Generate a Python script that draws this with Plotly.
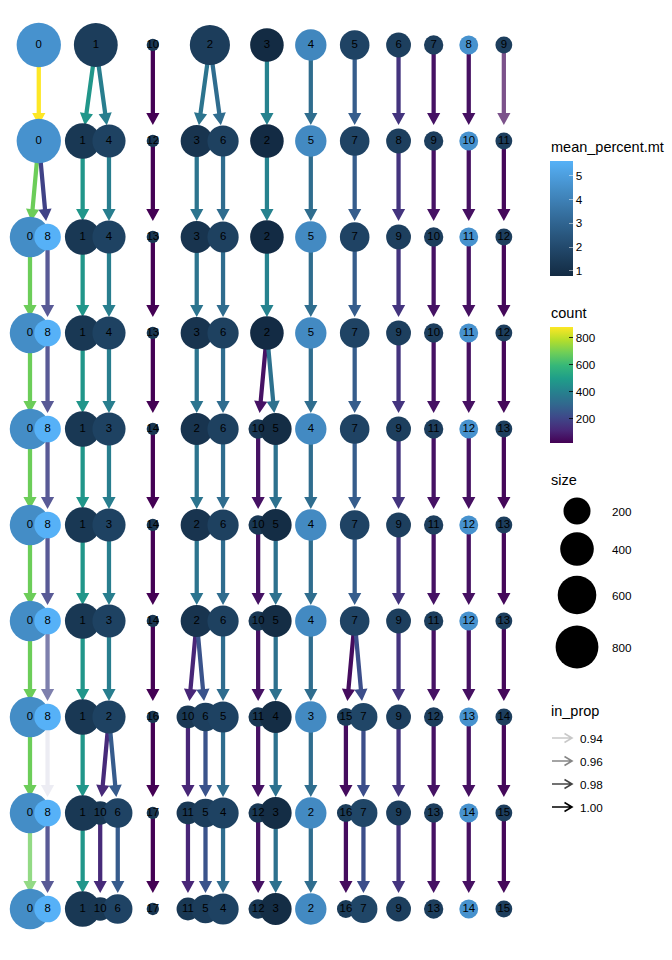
import math
import plotly.graph_objects as go
from plotly.colors import sample_colorscale

# ---------------- data (clustree: one list per resolution row, top -> bottom) ----------------
cluster_ids = [
    [0, 1, 10, 2, 3, 4, 5, 6, 7, 8, 9],
    [0, 1, 4, 12, 3, 6, 2, 5, 7, 8, 9, 10, 11],
    [0, 8, 1, 4, 13, 3, 6, 2, 5, 7, 9, 10, 11, 12],
    [0, 8, 1, 4, 13, 3, 6, 2, 5, 7, 9, 10, 11, 12],
    [0, 8, 1, 3, 14, 2, 6, 10, 5, 4, 7, 9, 11, 12, 13],
    [0, 8, 1, 3, 14, 2, 6, 10, 5, 4, 7, 9, 11, 12, 13],
    [0, 8, 1, 3, 14, 2, 6, 10, 5, 4, 7, 9, 11, 12, 13],
    [0, 8, 1, 2, 16, 10, 6, 5, 11, 4, 3, 15, 7, 9, 12, 13, 14],
    [0, 8, 1, 10, 6, 17, 11, 5, 4, 12, 3, 2, 16, 7, 9, 13, 14, 15],
    [0, 8, 1, 10, 6, 17, 11, 5, 4, 12, 3, 2, 16, 7, 9, 13, 14, 15],
]
# tree-layout x coordinate of every node
layout_x = [
    [0.5, 3.75, 7, 10.25, 13.5, 16, 18.5, 21, 23, 25, 27],
    [0.5, 3, 4.5, 7, 9.5, 11, 13.5, 16, 18.5, 21, 23, 25, 27],
    [0, 1, 3, 4.5, 7, 9.5, 11, 13.5, 16, 18.5, 21, 23, 25, 27],
    [0, 1, 3, 4.5, 7, 9.5, 11, 13.5, 16, 18.5, 21, 23, 25, 27],
    [0, 1, 3, 4.5, 7, 9.5, 11, 13, 14, 16, 18.5, 21, 23, 25, 27],
    [0, 1, 3, 4.5, 7, 9.5, 11, 13, 14, 16, 18.5, 21, 23, 25, 27],
    [0, 1, 3, 4.5, 7, 9.5, 11, 13, 14, 16, 18.5, 21, 23, 25, 27],
    [0, 1, 3, 4.5, 7, 9, 10, 11, 13, 14, 16, 18, 19, 21, 23, 25, 27],
    [0, 1, 3, 4, 5, 7, 9, 10, 11, 13, 14, 16, 18, 19, 21, 23, 25, 27],
    [0, 1, 3, 4, 5, 7, 9, 10, 11, 13, 14, 16, 18, 19, 21, 23, 25, 27],
]
cell_count = [
    [880, 855, 18, 670, 400, 325, 270, 150, 60, 55, 35],
    [880, 470, 385, 18, 350, 320, 400, 325, 270, 150, 60, 55, 35],
    [685, 190, 470, 385, 18, 350, 320, 400, 325, 270, 150, 60, 55, 35],
    [685, 190, 470, 385, 18, 350, 320, 400, 325, 270, 150, 60, 55, 35],
    [685, 190, 470, 385, 18, 350, 320, 60, 340, 325, 270, 150, 60, 55, 35],
    [685, 190, 470, 385, 18, 350, 320, 60, 340, 325, 270, 150, 60, 55, 35],
    [685, 190, 470, 385, 18, 350, 320, 60, 340, 325, 270, 150, 60, 55, 35],
    [685, 190, 470, 385, 18, 110, 240, 320, 60, 340, 325, 45, 225, 150, 60, 55, 35],
    [685, 190, 470, 120, 265, 18, 110, 240, 320, 60, 340, 325, 45, 225, 150, 60, 55, 35],
    [685, 190, 470, 120, 265, 18, 110, 240, 320, 60, 340, 325, 45, 225, 150, 60, 55, 35],
]
mean_percent_mt = [
    [4.6, 1.5, 1.25, 1.5, 0.78, 4.2, 1.75, 1.6, 1.55, 4.6, 1.55],
    [4.6, 1.3, 1.7, 1.25, 1.15, 1.65, 0.8, 4.3, 1.75, 1.6, 1.55, 4.6, 1.55],
    [4.4, 5.62, 1.3, 1.7, 1.25, 1.15, 1.65, 0.8, 4.3, 1.75, 1.6, 1.55, 4.6, 1.55],
    [4.4, 5.62, 1.3, 1.7, 1.25, 1.15, 1.65, 0.8, 4.3, 1.75, 1.6, 1.55, 4.6, 1.55],
    [4.4, 5.62, 1.3, 1.7, 1.25, 1.15, 1.65, 1.3, 0.85, 4.3, 1.75, 1.6, 1.55, 4.6, 1.55],
    [4.4, 5.62, 1.3, 1.7, 1.25, 1.15, 1.65, 1.3, 0.85, 4.3, 1.75, 1.6, 1.55, 4.6, 1.55],
    [4.4, 5.62, 1.3, 1.7, 1.25, 1.15, 1.65, 1.3, 0.85, 4.3, 1.75, 1.6, 1.55, 4.6, 1.55],
    [4.4, 5.62, 1.3, 1.7, 1.25, 1.3, 1.6, 1.7, 1.3, 0.85, 4.3, 1.45, 1.85, 1.6, 1.55, 4.6, 1.55],
    [4.4, 5.62, 1.3, 1.3, 1.75, 1.25, 1.3, 1.5, 1.7, 1.3, 0.85, 4.3, 1.45, 1.85, 1.6, 1.55, 4.6, 1.55],
    [4.4, 5.62, 1.3, 1.3, 1.75, 1.25, 1.3, 1.5, 1.7, 1.3, 0.85, 4.3, 1.45, 1.85, 1.6, 1.55, 4.6, 1.55],
]

# edges between consecutive rows (list k = from row k+1 to row k+2)
edge_from = [
    [0, 1, 1, 10, 2, 2, 3, 4, 5, 6, 7, 8, 9],
    [0, 0, 1, 4, 12, 3, 6, 2, 5, 7, 8, 9, 10, 11],
    [0, 8, 1, 4, 13, 3, 6, 2, 5, 7, 9, 10, 11, 12],
    [0, 8, 1, 4, 13, 3, 6, 2, 2, 5, 7, 9, 10, 11, 12],
    [0, 8, 1, 3, 14, 2, 6, 10, 5, 4, 7, 9, 11, 12, 13],
    [0, 8, 1, 3, 14, 2, 6, 10, 5, 4, 7, 9, 11, 12, 13],
    [0, 8, 1, 3, 14, 2, 2, 6, 10, 5, 4, 7, 7, 9, 11, 12, 13],
    [0, 8, 1, 2, 2, 16, 10, 6, 5, 11, 4, 3, 15, 7, 9, 12, 13, 14],
    [0, 8, 1, 10, 6, 17, 11, 5, 4, 12, 3, 2, 16, 7, 9, 13, 14, 15],
]
edge_to = [
    [0, 1, 4, 12, 3, 6, 2, 5, 7, 8, 9, 10, 11],
    [0, 8, 1, 4, 13, 3, 6, 2, 5, 7, 9, 10, 11, 12],
    [0, 8, 1, 4, 13, 3, 6, 2, 5, 7, 9, 10, 11, 12],
    [0, 8, 1, 3, 14, 2, 6, 10, 5, 4, 7, 9, 11, 12, 13],
    [0, 8, 1, 3, 14, 2, 6, 10, 5, 4, 7, 9, 11, 12, 13],
    [0, 8, 1, 3, 14, 2, 6, 10, 5, 4, 7, 9, 11, 12, 13],
    [0, 8, 1, 2, 16, 10, 6, 5, 11, 4, 3, 15, 7, 9, 12, 13, 14],
    [0, 8, 1, 10, 6, 17, 11, 5, 4, 12, 3, 2, 16, 7, 9, 13, 14, 15],
    [0, 8, 1, 10, 6, 17, 11, 5, 4, 12, 3, 2, 16, 7, 9, 13, 14, 15],
]
edge_count = [
    [880, 470, 385, 18, 350, 320, 400, 325, 270, 150, 60, 55, 35],
    [685, 190, 470, 385, 18, 350, 320, 400, 325, 270, 150, 60, 55, 35],
    [685, 190, 470, 385, 18, 350, 320, 400, 325, 270, 150, 60, 55, 35],
    [685, 190, 470, 385, 18, 350, 320, 60, 340, 325, 270, 150, 60, 55, 35],
    [685, 190, 470, 385, 18, 350, 320, 60, 340, 325, 270, 150, 60, 55, 35],
    [685, 190, 470, 385, 18, 350, 320, 60, 340, 325, 270, 150, 60, 55, 35],
    [685, 190, 470, 385, 18, 110, 240, 320, 60, 340, 325, 45, 225, 150, 60, 55, 35],
    [685, 190, 470, 120, 265, 18, 110, 240, 320, 60, 340, 325, 45, 225, 150, 60, 55, 35],
    [685, 190, 470, 120, 265, 18, 110, 240, 320, 60, 340, 325, 45, 225, 150, 60, 55, 35],
]
edge_in_prop = [
    [1, 1, 1, 1, 1, 1, 1, 1, 1, 1, 1, 1, 0.977],
    [1, 1, 1, 1, 1, 1, 1, 1, 1, 1, 1, 1, 1, 1],
    [1, 0.99, 1, 1, 1, 1, 1, 1, 1, 1, 1, 1, 1, 1],
    [1, 0.99, 1, 1, 1, 1, 1, 1, 1, 1, 1, 1, 1, 1, 1],
    [1, 0.99, 1, 1, 1, 1, 1, 1, 1, 1, 1, 1, 1, 1, 1],
    [1, 0.99, 1, 1, 1, 1, 1, 1, 1, 1, 1, 1, 1, 1, 1],
    [1, 0.975, 1, 1, 1, 1, 1, 1, 1, 1, 1, 1, 1, 1, 1, 1, 1],
    [1, 0.931, 1, 1, 1, 1, 1, 1, 1, 1, 1, 1, 1, 1, 1, 1, 1, 1],
    [0.98, 0.99, 1, 1, 1, 1, 1, 1, 1, 1, 1, 1, 1, 1, 1, 1, 1, 1],
]

size_breaks = [200, 400, 600, 800]
mt_ticks = [1, 2, 3, 4, 5]
count_ticks = [200, 400, 600, 800]
in_prop_breaks = [0.94, 0.96, 0.98, 1.00]

# ---------------- styling / geometry ----------------
FONT = "Liberation Sans, Arial, sans-serif"
W, H = 672, 960
PLOT_W = 520
KX, X0 = 17.55, 30.0      # px per layout unit, px of layout x=0
KY, Y0 = 96.0, 45.0       # px per row, px of row 1
D_MIN, D_MAX = 12.3, 44.3 # node diameter range (px)


def to_px(x, row):
    return X0 + KX * x, Y0 + KY * (row - 1)


def to_data(px, py):
    return (px - X0) / KX, 1 + (py - Y0) / KY


all_counts = [v for r in cell_count for v in r]
s_min, s_max = min(all_counts), max(all_counts)


def diam(v):
    return D_MIN + (D_MAX - D_MIN) * math.sqrt(max(v - s_min, 0) / (s_max - s_min))


# ggplot default gradient (#132B43 -> #56B1F7) interpolated in CIELAB
def _hex_rgb(h):
    h = h.lstrip('#')
    return [int(h[i:i + 2], 16) / 255 for i in (0, 2, 4)]


def _lin(c):
    return c / 12.92 if c <= 0.04045 else ((c + 0.055) / 1.055) ** 2.4


def _gam(c):
    c = max(0.0, min(1.0, c))
    return 12.92 * c if c <= 0.0031308 else 1.055 * c ** (1 / 2.4) - 0.055


WP = (0.95047, 1.0, 1.08883)


def rgb2lab(rgb):
    r, g, b = [_lin(c) for c in rgb]
    X = 0.4124 * r + 0.3576 * g + 0.1805 * b
    Y = 0.2126 * r + 0.7152 * g + 0.0722 * b
    Z = 0.0193 * r + 0.1192 * g + 0.9505 * b
    f = lambda t: t ** (1 / 3) if t > 0.008856 else 7.787 * t + 16 / 116
    fx, fy, fz = f(X / WP[0]), f(Y / WP[1]), f(Z / WP[2])
    return 116 * fy - 16, 500 * (fx - fy), 200 * (fy - fz)


def lab2rgb(L, a, b):
    fy = (L + 16) / 116
    fx = fy + a / 500
    fz = fy - b / 200
    finv = lambda t: t ** 3 if t ** 3 > 0.008856 else (t - 16 / 116) / 7.787
    X, Y, Z = WP[0] * finv(fx), WP[1] * finv(fy), WP[2] * finv(fz)
    r = 3.2406 * X - 1.5372 * Y - 0.4986 * Z
    g = -0.9689 * X + 1.8758 * Y + 0.0415 * Z
    bb = 0.0557 * X - 0.2040 * Y + 1.0570 * Z
    return [round(_gam(c) * 255) for c in (r, g, bb)]


lab_lo, lab_hi = rgb2lab(_hex_rgb('#132B43')), rgb2lab(_hex_rgb('#56B1F7'))
mt_scale = []
for i in range(21):
    t = i / 20
    lab = [lab_lo[k] + (lab_hi[k] - lab_lo[k]) * t for k in range(3)]
    r, g, b = lab2rgb(*lab)
    mt_scale.append([t, f'rgb({r},{g},{b})'])

all_mt = [v for r in mean_percent_mt for v in r]
mt_min, mt_max = min(all_mt), max(all_mt)

all_edge_counts = [v for r in edge_count for v in r]
c_min, c_max = min(all_edge_counts), max(all_edge_counts)
all_prop = [v for r in edge_in_prop for v in r]
p_min, p_max = min(all_prop), max(all_prop)


def alpha_of(p):
    return 0.1 + 0.9 * (p - p_min) / (p_max - p_min)


fig = go.Figure()

# ---------------- edges (arrows) ----------------
TIP, HEAD, HS, HH = 16.0, 12.0, 2.13, 6.6
for k in range(len(edge_from)):
    r_from, r_to = k + 1, k + 2
    pos_from = dict(zip(cluster_ids[k], layout_x[k]))
    pos_to = dict(zip(cluster_ids[k + 1], layout_x[k + 1]))
    for a, b, c, p in zip(edge_from[k], edge_to[k], edge_count[k], edge_in_prop[k]):
        Px, Py = to_px(pos_from[a], r_from)
        Cx, Cy = to_px(pos_to[b], r_to)
        dx, dy = Cx - Px, Cy - Py
        L = math.hypot(dx, dy)
        ux, uy = dx / L, dy / L
        nx, ny = -uy, ux
        tx, ty = Cx - ux * TIP, Cy - uy * TIP
        bx, by = tx - ux * HEAD, ty - uy * HEAD
        pts = [
            (Px + nx * HS, Py + ny * HS), (bx + nx * HS, by + ny * HS),
            (bx + nx * HH, by + ny * HH), (tx, ty),
            (bx - nx * HH, by - ny * HH), (bx - nx * HS, by - ny * HS),
            (Px - nx * HS, Py - ny * HS), (Px + nx * HS, Py + ny * HS),
        ]
        dpts = [to_data(*q) for q in pts]
        col = sample_colorscale('Viridis', [(c - c_min) / (c_max - c_min)])[0]
        rgb = col[col.index('(') + 1:col.index(')')]
        fc = f'rgba({rgb},{alpha_of(p):.3f})'
        fig.add_trace(go.Scatter(
            x=[q[0] for q in dpts], y=[q[1] for q in dpts], mode='lines',
            fill='toself', fillcolor=fc, line=dict(width=0, color=fc),
            hoverinfo='skip', showlegend=False))

# dummy trace carrying the edge count colour bar (placed outside the visible range)
fig.add_trace(go.Scatter(
    x=[-50, -50], y=[-50, -50], mode='markers', hoverinfo='skip', showlegend=False,
    marker=dict(size=1, opacity=1, color=[c_min, c_max], colorscale='Viridis', cmin=c_min, cmax=c_max,
                colorbar=dict(x=550 / W, xanchor='left', xref='paper',
                              y=1 - 327 / H, yanchor='top', yref='paper',
                              len=116, lenmode='pixels', thickness=23, thicknessmode='pixels',
                              xpad=0, ypad=0, outlinewidth=0,
                              ticks='inside', ticklen=4, tickwidth=1,
                              tickcolor='rgba(0,0,0,0.8)',
                              tickvals=count_ticks,
                              tickfont=dict(size=11.7, family=FONT, color='black')))))

# ---------------- nodes ----------------
nx_, ny_, ns_, nc_, nt_ = [], [], [], [], []
for k in range(len(cluster_ids)):
    for cl, x, s, m in zip(cluster_ids[k], layout_x[k], cell_count[k], mean_percent_mt[k]):
        nx_.append(x)
        ny_.append(k + 1)
        ns_.append(diam(s))
        nc_.append(m)
        nt_.append(str(cl))

fig.add_trace(go.Scatter(
    x=nx_, y=ny_, mode='markers', hoverinfo='skip', showlegend=False,
    marker=dict(size=ns_, color=nc_, colorscale=mt_scale, cmin=mt_min, cmax=mt_max,
                line=dict(width=0), opacity=1,
                colorbar=dict(x=550 / W, xanchor='left', xref='paper',
                              y=1 - 161 / H, yanchor='top', yref='paper',
                              len=115, lenmode='pixels', thickness=23, thicknessmode='pixels',
                              xpad=0, ypad=0, outlinewidth=0,
                              ticks='inside', ticklen=4, tickwidth=1,
                              tickcolor='rgba(255,255,255,0.5)',
                              tickvals=mt_ticks,
                              tickfont=dict(size=11.7, family=FONT, color='black')))))

fig.add_trace(go.Scatter(
    x=nx_, y=ny_, mode='text', text=nt_, textposition='middle center',
    textfont=dict(size=11.4, family=FONT, color='black'),
    hoverinfo='skip', showlegend=False))

# ---------------- size legend (pixel overlay axis x2/y2) ----------------
size_y = [511, 549, 595, 647]
fig.add_trace(go.Scatter(
    x=[577] * len(size_breaks), y=size_y, xaxis='x2', yaxis='y2', mode='markers',
    marker=dict(size=[diam(v) for v in size_breaks], color='black', opacity=1,
                line=dict(width=0)),
    hoverinfo='skip', showlegend=False))

annotations = []


def add_text(x, y, txt, size):
    annotations.append(dict(x=x, y=y, xref='x2', yref='y2', text=txt, showarrow=False,
                            xanchor='left', yanchor='middle',
                            font=dict(size=size, family=FONT, color='black')))


add_text(549, 147, 'mean_percent.mt', 14.5)
add_text(549, 313, 'count', 14.5)
add_text(549, 480, 'size', 14.5)
add_text(549, 711, 'in_prop', 14.5)
for v, yy in zip(size_breaks, size_y):
    add_text(610, yy, str(v), 11.7)

shapes = []
prop_y = [738, 761, 784, 807]
for v, yy in zip(in_prop_breaks, prop_y):
    a = alpha_of(v)
    add_text(578, yy, f'{v:.2f}', 11.7)
    shapes.append(dict(type='path', xref='x2', yref='y2',
                       path=f'M552,{yy} L572,{yy} M564.5,{yy - 4.5} L572,{yy} L564.5,{yy + 4.5}',
                       line=dict(color=f'rgba(0,0,0,{a:.3f})', width=1.6)))

# left-hand tick marks of the colour bars (ggplot draws them on both sides)
for vals, vmin, vmax, top, ln, col in [
        (mt_ticks, mt_min, mt_max, 161, 115, 'rgba(255,255,255,0.5)'),
        (count_ticks, c_min, c_max, 327, 116, 'rgba(0,0,0,0.8)')]:
    for v in vals:
        yy = top + (vmax - v) / (vmax - vmin) * ln
        shapes.append(dict(type='line', xref='x2', yref='y2', x0=550, x1=554, y0=yy, y1=yy,
                           line=dict(color=col, width=1)))

fig.update_layout(
    width=W, height=H, margin=dict(l=0, r=0, t=0, b=0),
    paper_bgcolor='white', plot_bgcolor='white',
    xaxis=dict(domain=[0, PLOT_W / W], range=[(0 - X0) / KX, (PLOT_W - X0) / KX],
               visible=False, fixedrange=True),
    yaxis=dict(domain=[0, 1], range=[1 + (H - Y0) / KY, 1 - Y0 / KY],
               visible=False, fixedrange=True),
    xaxis2=dict(domain=[PLOT_W / W, 1], range=[PLOT_W, W], anchor='y2',
                visible=False, fixedrange=True),
    yaxis2=dict(domain=[0, 1], range=[H, 0], anchor='x2', visible=False, fixedrange=True),
    annotations=annotations, shapes=shapes, showlegend=False,
)

fig.write_html("out.html")
